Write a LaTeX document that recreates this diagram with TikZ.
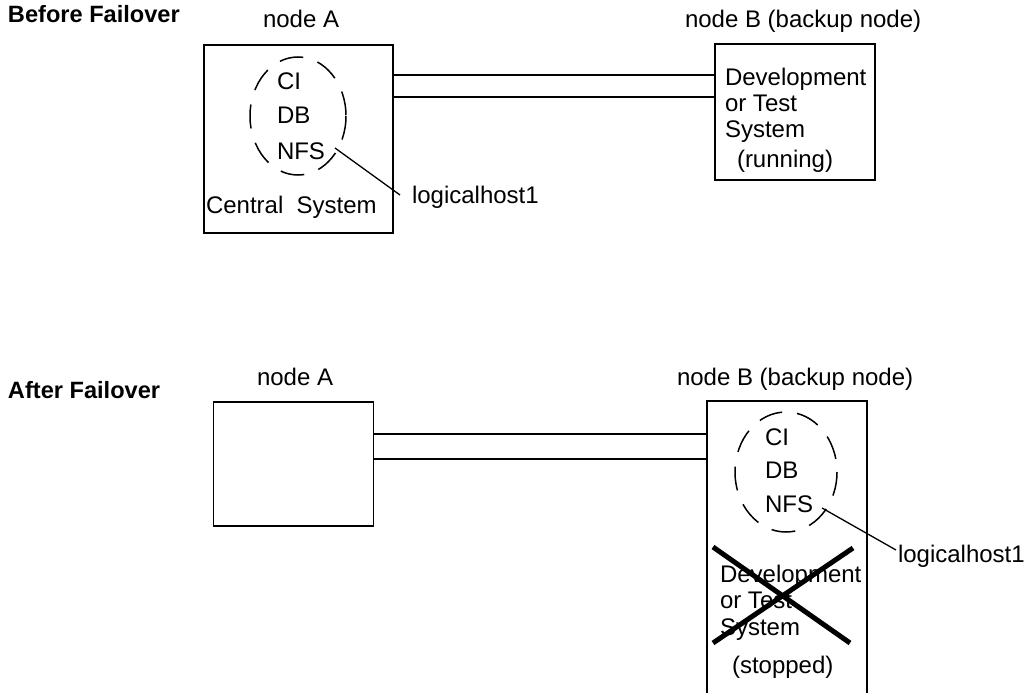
\documentclass[tikz,border=0pt]{standalone}
\usepackage{fontspec}
\setmainfont{Liberation Sans}
\begin{document}
\begin{tikzpicture}[x=1pt,y=-1pt,
  every node/.style={inner sep=0pt,outer sep=0pt,font=\fontsize{24}{26}\selectfont},
  txt/.style={anchor=base west},
  head/.style={anchor=base west,font=\fontsize{23.6}{26}\selectfont\bfseries},
  box/.style={draw,line width=1.8pt,rectangle},
  link/.style={line width=1.6pt},
  group/.style={draw,line width=1.5pt,dash pattern=on 24pt off 15pt},
  leader/.style={line width=1.3pt},
  cross/.style={line width=5pt}]
\useasboundingbox (0,0) rectangle (1036,693);
\fill[white] (0,0) rectangle (1036,693);

% ---------- Before failover ----------
\node[head] (hBefore) at (8,23) {Before Failover};
\node[txt] (labAtop) at (263,28) {node A};
\node[txt] (labBtop) at (685,28) {node B (backup node)};

\node[box,minimum width=189pt,minimum height=188pt] (Atop) at (298.5,139) {};
\node[box,minimum width=160pt,minimum height=136pt] (Btop) at (795,112) {};

\coordinate (l1a) at (Atop.east |- 0,75);
\coordinate (l2a) at (Atop.east |- 0,97);
\draw[link] (l1a) -- (l1a -| Btop.west);
\draw[link] (l2a) -- (l2a -| Btop.west);

\draw[group] (298,116) ellipse [x radius=48, y radius=59];
\node[txt] (ciA) at (277,89) {CI};
\node[txt] (dbA) at (277,123) {DB};
\node[txt] (nfsA) at (277,159) {NFS};
\node[txt] (csA) at (206,213) {Central\ \ System};
\node[txt] (lhA) at (412,203) {logicalhost1};
\coordinate (lhAend) at (400,195);
\draw[leader] (335,148) -- (lhAend);

\node[txt] (devB1) at (725,85) {Development};
\node[txt] (devB2) at (725,111) {or Test};
\node[txt] (devB3) at (725,137) {System};
\node[txt] (runB) at (737,167) {(running)};

% ---------- After failover ----------
\node[head] (hAfter) at (8,398) {After Failover};
\node[txt] (labAbot) at (257,385) {node A};
\node[txt] (labBbot) at (677,385) {node B (backup node)};

\node[box,minimum width=160pt,minimum height=124pt] (Abot) at (293.5,464) {};
\coordinate (Bbl) at (707,697);
\coordinate (Btl) at (707,401);
\coordinate (Btr) at (867,401);
\coordinate (Bbr) at (867,697);
\draw[line width=1.8pt] (Bbl) -- (Btl) -- (Btr) -- (Bbr);

\coordinate (m1a) at (Abot.east |- 0,434);
\coordinate (m2a) at (Abot.east |- 0,459);
\draw[link] (m1a) -- (m1a -| Btl);
\draw[link] (m2a) -- (m2a -| Btl);

\draw[group] (786,472) ellipse [x radius=51, y radius=60];
\node[txt] (ciB) at (765,445) {CI};
\node[txt] (dbB) at (765,478) {DB};
\node[txt] (nfsB) at (765,512) {NFS};
\node[txt] (lhB) at (898,562) {logicalhost1};
\coordinate (lhBend) at (896,550);
\draw[leader] (822,508) -- (lhBend);

\node[txt] (devS1) at (720,582) {Development};
\node[txt] (devS2) at (720,608) {or Test};
\node[txt] (devS3) at (720,635) {System};
\node[txt] (stopB) at (732,673) {(stopped)};

\draw[cross] (713,547) -- (850,643);
\draw[cross] (713,643) -- (853,548);
\end{tikzpicture}
\end{document}
